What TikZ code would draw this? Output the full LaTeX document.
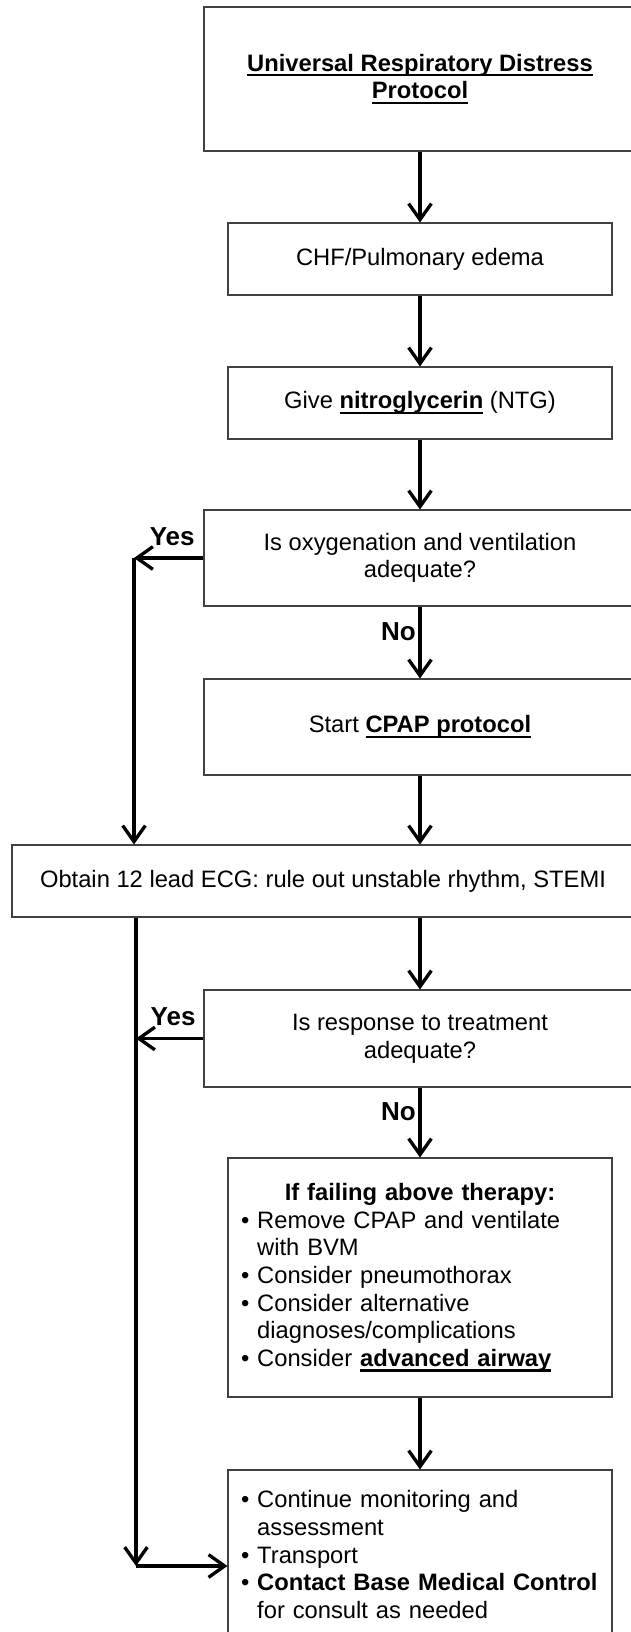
\documentclass[tikz,border=0pt]{standalone}
\usepackage{fontspec}
\setmainfont{Liberation Sans}
\usetikzlibrary{arrows.meta}

\newcommand{\ulbf}[1]{\setbox0\hbox{\textbf{#1}}\rlap{\rule[-4pt]{\wd0}{1.9pt}}\box0\relax}

\begin{document}
\begin{tikzpicture}[x=0.75pt, y=-0.75pt,
    font=\fontsize{17.8}{20.7}\selectfont,
    box/.style={draw=black!75, line width=0.8pt, align=center, inner sep=0pt},
    flow/.style={-{Straight Barb[length=12pt,width=17pt]}, line width=2.5pt},
    ans/.style={font=\fontsize{19.5}{22}\selectfont\bfseries}
]
\useasboundingbox (0,0) rectangle (631,1632);

% Boxes
\node[box, minimum width=324pt, minimum height=108pt] (title) at (420,79)
    {\ulbf{Universal Respiratory Distress}\\\ulbf{Protocol}};
\node[box, minimum width=288pt, minimum height=54pt] (chf) at (420,259)
    {CHF/Pulmonary edema};
\node[box, minimum width=288pt, minimum height=54pt] (ntg) at (420,403)
    {Give \ulbf{nitroglycerin} (NTG)};
\node[box, minimum width=324pt, minimum height=72pt] (oxy) at (420,558)
    {Is oxygenation and ventilation\\adequate?};
\node[box, minimum width=324pt, minimum height=72pt] (cpap) at (420,727)
    {Start \ulbf{CPAP protocol}};
\node[box, minimum width=466.5pt, minimum height=54pt] (ecg) at (323,881)
    {Obtain 12 lead ECG: rule out unstable rhythm, STEMI};
\node[box, minimum width=324pt, minimum height=72.75pt] (resp) at (420,1038.5)
    {Is response to treatment\\adequate?};
\node[box, minimum width=288pt, minimum height=179.25pt, text width=268.5pt, align=left] (fail) at (420,1277.5)
    {\makebox[268.5pt][c]{\textbf{If failing above therapy:}}\\
     \textbullet\ Remove CPAP and ventilate\\
     \phantom{\textbullet\ }with BVM\\
     \textbullet\ Consider pneumothorax\\
     \textbullet\ Consider alternative\\
     \phantom{\textbullet\ }diagnoses/complications\\
     \textbullet\ Consider \ulbf{advanced airway}};
\node[box, minimum width=288pt, minimum height=126.75pt, text width=268.5pt, align=left] (cont) at (420,1554.5)
    {\textbullet\ Continue monitoring and\\
     \phantom{\textbullet\ }assessment\\
     \textbullet\ Transport\\
     \textbullet\ \textbf{Contact Base Medical Control}\\
     \phantom{\textbullet\ }for consult as needed};

% Main line
\draw[flow] (title.south) -- (chf.north);
\draw[flow] (chf.south) -- (ntg.north);
\draw[flow] (ntg.south) -- (oxy.north);
\draw[flow] (oxy.south) -- node[ans, left, pos=0.35, inner sep=2pt] {No} (cpap.north);
\draw[flow] (cpap.south) -- (cpap.south |- ecg.north);
\draw[flow] (ecg.south -| resp.north) -- (resp.north);
\draw[flow] (resp.south) -- node[ans, left, pos=0.35, inner sep=2pt] {No} (fail.north);
\draw[flow] (fail.south) -- (cont.north);

% Yes branches
\coordinate (yes1) at (134,558);
\coordinate (low) at (136,1566);
\draw[flow] (oxy.west) -- node[ans, above, pos=0.45, inner sep=8pt] {Yes} (yes1);
\draw[flow] (yes1) -- (yes1 |- ecg.north);
\draw[flow] (ecg.south -| low) -- (low);
\draw[flow] (resp.west) -- node[ans, above, pos=0.45, inner sep=8pt] {Yes} (resp.west -| low);
\draw[flow] (low) -- (low -| cont.west);

\end{tikzpicture}
\end{document}
